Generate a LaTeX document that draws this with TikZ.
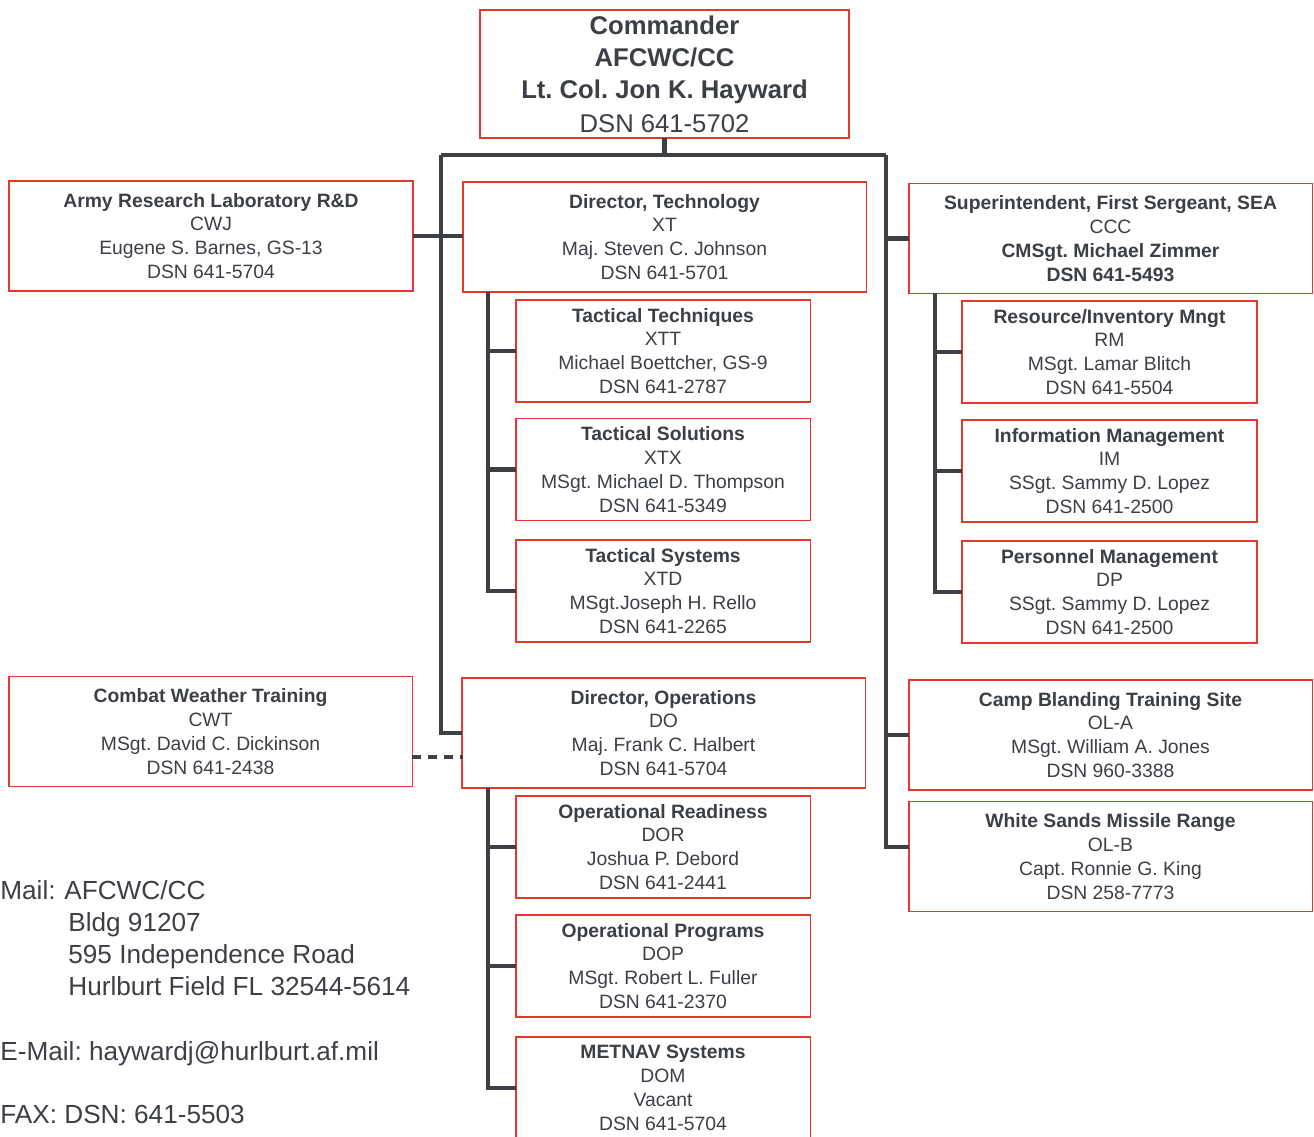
\documentclass[tikz,border=0pt]{standalone}
\usepackage{fontspec}
\setmainfont{Liberation Sans}
\frenchspacing
\definecolor{boxred}{HTML}{E5372C}
\definecolor{ink}{HTML}{3C4046}
\tikzset{
  unit/.style={draw=boxred, line width=1.1pt, fill=white, text=ink, align=center,
    inner sep=0pt, outer sep=0pt, font=\fontsize{11}{13.6}\selectfont},
  mainbox/.style={unit, minimum width=8.08cm, minimum height=2.2cm},
  subbox/.style={unit, minimum width=5.9cm, minimum height=2.04cm},
  conn/.style={draw=ink, line width=2.8pt, line join=miter},
  addr/.style={anchor=base west, inner sep=0pt, text=ink, font=\fontsize{14.9}{18.2}\selectfont}
}
\begin{document}
\begin{tikzpicture}[x=0.02cm, y=-0.02cm]
\useasboundingbox (0,0) rectangle (1314,1136);
\node[unit, minimum width=7.38cm, minimum height=2.56cm, font=\fontsize{14.6}{18.2}\selectfont] (cc) at (664.5,74)
  {\textbf{Commander}\\\textbf{AFCWC/CC}\\\textbf{Lt. Col. Jon K. Hayward}\\[1pt]DSN 641-5702};
\node[mainbox] (arl) at (211,236) {\textbf{Army Research Laboratory R\&D}\\CWJ\\Eugene S. Barnes, GS-13\\DSN 641-5704};
\node[mainbox] (xt) at (664.5,237) {\textbf{Director, Technology}\\XT\\Maj. Steven C. Johnson\\DSN 641-5701};
\node[mainbox] (ccc) at (1110.5,238.5) {\textbf{Superintendent, First Sergeant, SEA}\\CCC\\\textbf{CMSgt. Michael Zimmer}\\\textbf{DSN 641-5493}};
\node[subbox] (xtt) at (663,351) {\textbf{Tactical Techniques}\\XTT\\Michael Boettcher, GS-9\\DSN 641-2787};
\node[subbox] (xtx) at (663,469.5) {\textbf{Tactical Solutions}\\XTX\\MSgt. Michael D. Thompson\\DSN 641-5349};
\node[subbox] (xtd) at (663,591) {\textbf{Tactical Systems}\\XTD\\MSgt.Joseph H. Rello\\DSN 641-2265};
\node[subbox] (rm) at (1109.5,352) {\textbf{Resource/Inventory Mngt}\\RM\\MSgt. Lamar Blitch\\DSN 641-5504};
\node[subbox] (im) at (1109.5,471) {\textbf{Information Management}\\IM\\SSgt. Sammy D. Lopez\\DSN 641-2500};
\node[subbox] (dp) at (1109.5,592) {\textbf{Personnel Management}\\DP\\SSgt. Sammy D. Lopez\\DSN 641-2500};
\node[mainbox] (cwt) at (210.5,731.5) {\textbf{Combat Weather Training}\\CWT\\MSgt. David C. Dickinson\\DSN 641-2438};
\node[mainbox] (do) at (663.5,733) {\textbf{Director, Operations}\\DO\\Maj. Frank C. Halbert\\DSN 641-5704};
\node[mainbox] (olA) at (1110.5,735) {\textbf{Camp Blanding Training Site}\\OL-A\\MSgt. William A. Jones\\DSN 960-3388};
\node[mainbox] (olB) at (1110.5,856.5) {\textbf{White Sands Missile Range}\\OL-B\\Capt. Ronnie G. King\\DSN 258-7773};
\node[subbox] (dor) at (663,847) {\textbf{Operational Readiness}\\DOR\\Joshua P. Debord\\DSN 641-2441};
\node[subbox] (dop) at (663,966) {\textbf{Operational Programs}\\DOP\\MSgt. Robert L. Fuller\\DSN 641-2370};
\node[subbox] (dom) at (663,1088) {\textbf{METNAV Systems}\\DOM\\Vacant\\DSN 641-5704};

\coordinate (busL) at (441,155);
\coordinate (busR) at (886,155);
\coordinate (busRend) at (886,847);
\coordinate (xtspine) at (488,292);
\coordinate (cccspine) at (935,293);
\coordinate (dospine) at (488,788);
\coordinate (cwtlink) at (463,757);

\draw[conn] (cc.south) -- (cc.south |- busL);
\draw[conn] (busL) -- (busR);
\draw[conn] (busL) |- (do.west);
\draw[conn] (busR) -- (busRend) -- (olB.west |- busRend);
\draw[conn] (arl.east) -- (arl.east -| xt.west);
\draw[conn] (busR |- ccc.west) -- (ccc.west);
\draw[conn] (busR |- olA.west) -- (olA.west);
\draw[conn, dash pattern=on 5pt off 4pt] (cwt.east |- cwtlink) -- (cwtlink);
\draw[conn] (xtspine) |- (xtd.west);
\draw[conn] (xtspine |- xtt.west) -- (xtt.west);
\draw[conn] (xtspine |- xtx.west) -- (xtx.west);
\draw[conn] (cccspine) |- (dp.west);
\draw[conn] (cccspine |- rm.west) -- (rm.west);
\draw[conn] (cccspine |- im.west) -- (im.west);
\draw[conn] (dospine) |- (dom.west);
\draw[conn] (dospine |- dor.west) -- (dor.west);
\draw[conn] (dospine |- dop.west) -- (dop.west);

\node[addr] (mail) at (0,899) {Mail:};
\node[addr] (line1) at (64,899) {AFCWC/CC};
\node[addr] (line2) at (68,931) {Bldg 91207};
\node[addr] (line3) at (68,963) {595 Independence Road};
\node[addr] (line4) at (68,995) {Hurlburt Field FL 32544-5614};
\node[addr] (email) at (0,1060) {E-Mail: haywardj@hurlburt.af.mil};
\node[addr] (fax) at (0,1123) {FAX: DSN: 641-5503};
\end{tikzpicture}
\end{document}
